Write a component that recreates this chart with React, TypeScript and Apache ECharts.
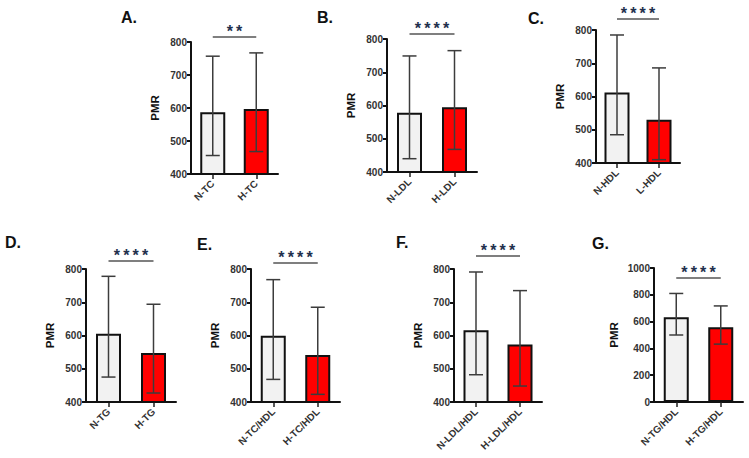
import React, { useEffect, useRef } from "react";
import * as echarts from "echarts";

// ---- data ----
const titles = ["A.", "B.", "C.", "D.", "E.", "F.", "G."];
const sigLabels = ["**", "****", "****", "****", "****", "****", "****"];

const catsA = ["N-TC", "H-TC"];
const meanA = [587, 597];
const highA = [757, 767];
const lowA = [456, 468];

const catsB = ["N-LDL", "H-LDL"];
const meanB = [578, 595];
const highB = [749, 765];
const lowB = [440, 468];

const catsC = ["N-HDL", "L-HDL"];
const meanC = [612, 530];
const highC = [785, 686];
const lowC = [485, 410];

const catsD = ["N-TG", "H-TG"];
const meanD = [605, 547];
const highD = [778, 694];
const lowD = [475, 427];

const catsE = ["N-TC/HDL", "H-TC/HDL"];
const meanE = [599, 541];
const highE = [768, 685];
const lowE = [468, 423];

const catsF = ["N-LDL/HDL", "H-LDL/HDL"];
const meanF = [616, 573];
const highF = [791, 735];
const lowF = [482, 448];

const catsG = ["N-TG/HDL", "H-TG/HDL"];
const meanG = [632, 557];
const highG = [810, 717];
const lowG = [500, 432];

const yMinArr = [400, 400, 400, 400, 400, 400, 0];
const yMaxArr = [800, 800, 800, 800, 800, 800, 1000];
const yStepArr = [100, 100, 100, 100, 100, 100, 200];

// ---- layout (pixels) ----
const grids = [
  { left: 191, top: 42, width: 87, height: 132 },
  { left: 387, top: 39, width: 90, height: 133 },
  { left: 596, top: 30, width: 84, height: 133 },
  { left: 86, top: 269, width: 90, height: 133 },
  { left: 251, top: 269, width: 89, height: 133 },
  { left: 454, top: 269, width: 88, height: 133 },
  { left: 654, top: 268, width: 89, height: 134 },
];
const titlePos = [
  [121, 18],
  [317, 18],
  [528, 19],
  [5, 243],
  [197, 245],
  [396, 243],
  [592, 244],
];
const sigOffset = [-5, -5, -11, -8, -6, -13, 10];
const nameGaps = [30, 30, 30, 30, 30, 30, 34];

const FONT = 'Arial, "Liberation Sans", Helvetica, sans-serif';
const AXIS_COLOR = "#111";
const LABEL_COLOR = "#333";

export default function App() {
  const ref = useRef<HTMLDivElement>(null);

  useEffect(() => {
    if (!ref.current) return;
    const chart = echarts.init(ref.current, undefined, { renderer: "svg" });

    const cats = [catsA, catsB, catsC, catsD, catsE, catsF, catsG];
    const means = [meanA, meanB, meanC, meanD, meanE, meanF, meanG];
    const highs = [highA, highB, highC, highD, highE, highF, highG];
    const lows = [lowA, lowB, lowC, lowD, lowE, lowF, lowG];

    const grid = grids.map((g) => ({ ...g, containLabel: false }));

    const xAxis = cats.map((c, i) => ({
      type: "category",
      gridIndex: i,
      data: c,
      axisLine: { show: true, onZero: false, lineStyle: { color: AXIS_COLOR, width: 2 } },
      axisTick: { show: true, alignWithLabel: true, length: 5, lineStyle: { color: "#222", width: 1.5 } },
      axisLabel: {
        rotate: 45,
        margin: 8,
        color: LABEL_COLOR,
        fontWeight: "bold",
        fontSize: 10,
        fontFamily: FONT,
        interval: 0,
      },
      splitLine: { show: false },
    }));

    const yAxis = cats.map((_, i) => ({
      type: "value",
      gridIndex: i,
      min: yMinArr[i],
      max: yMaxArr[i],
      interval: yStepArr[i],
      name: "PMR",
      nameLocation: "middle",
      nameGap: nameGaps[i],
      nameRotate: 90,
      nameTextStyle: { color: "#111", fontWeight: "bold", fontSize: 11.5, fontFamily: FONT },
      axisLine: { show: true, onZero: false, lineStyle: { color: AXIS_COLOR, width: 2 } },
      axisTick: { show: true, length: 4, lineStyle: { color: AXIS_COLOR, width: 2 } },
      axisLabel: {
        color: LABEL_COLOR,
        fontWeight: "bold",
        fontSize: 10,
        fontFamily: FONT,
        margin: 4,
        formatter: (v: number) => String(v),
      },
      splitLine: { show: false },
    }));

    const series: any[] = [];
    cats.forEach((_, i) => {
      series.push({
        type: "bar",
        xAxisIndex: i,
        yAxisIndex: i,
        barWidth: 25,
        clip: true,
        data: means[i].map((v, j) => ({
          value: v,
          itemStyle: { color: j === 0 ? "#f2f2f2" : "#ff0000" },
        })),
        itemStyle: { borderColor: "#111", borderWidth: 2 },
        z: 2,
      });
      series.push({
        type: "custom",
        xAxisIndex: i,
        yAxisIndex: i,
        z: 4,
        encode: { x: 0, y: [1, 2] },
        data: means[i].map((_, j) => [j, lows[i][j], highs[i][j]]),
        renderItem: (params: any, api: any) => {
          const x = api.value(0);
          const pLow = api.coord([x, api.value(1)]);
          const pHigh = api.coord([x, api.value(2)]);
          const half = 7;
          const style = { stroke: "#3c3c3c", lineWidth: 1.5 };
          return {
            type: "group",
            children: [
              { type: "line", shape: { x1: pLow[0], y1: pLow[1], x2: pHigh[0], y2: pHigh[1] }, style },
              { type: "line", shape: { x1: pHigh[0] - half, y1: pHigh[1], x2: pHigh[0] + half, y2: pHigh[1] }, style },
              { type: "line", shape: { x1: pLow[0] - half, y1: pLow[1], x2: pLow[0] + half, y2: pLow[1] }, style },
            ],
          };
        },
      });
      series.push({
        type: "custom",
        xAxisIndex: i,
        yAxisIndex: i,
        z: 5,
        clip: false,
        encode: { x: 0, y: 1 },
        data: [[0, yMaxArr[i]]],
        renderItem: (params: any, api: any) => {
          const p0 = api.coord([0, yMaxArr[i]]);
          const p1 = api.coord([1, yMaxArr[i]]);
          const y = p0[1] + sigOffset[i];
          const label = sigLabels[i].split("").join("\u2009");
          return {
            type: "group",
            children: [
              {
                type: "line",
                shape: { x1: p0[0], y1: y, x2: p1[0], y2: y },
                style: { stroke: "#555", lineWidth: 1.6 },
              },
              {
                type: "text",
                x: (p0[0] + p1[0]) / 2,
                y: y - 6,
                style: {
                  text: label,
                  fill: "#22304d",
                  fontSize: 16,
                  fontWeight: "bold",
                  fontFamily: FONT,
                  align: "center",
                  verticalAlign: "middle",
                },
              },
            ],
          };
        },
      });
    });

    const graphic = titles.map((t, i) => ({
      type: "text",
      left: titlePos[i][0],
      top: titlePos[i][1] - 9,
      style: {
        text: t,
        fill: "#111",
        fontSize: 16,
        fontWeight: "bold",
        fontFamily: FONT,
      },
    }));

    chart.setOption({
      animation: false,
      backgroundColor: "#ffffff",
      grid,
      xAxis,
      yAxis,
      series,
      graphic,
    } as any);

    return () => chart.dispose();
  }, []);

  return (
    <div
      ref={ref}
      style={{ position: "absolute", left: 0, top: 0, width: 749, height: 458, background: "#fff" }}
    />
  );
}
